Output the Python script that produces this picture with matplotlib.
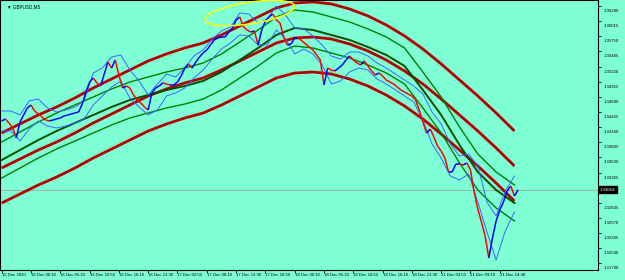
import numpy as np
import matplotlib
matplotlib.use("Agg")
import matplotlib.pyplot as plt
from matplotlib.collections import LineCollection
import matplotlib.transforms as mtransforms

# ---------------- data ----------------
symbol = "GBPUSD,M5"
time_labels = ["15 Dec 2020", "16 Dec 00:10", "16 Dec 05:30", "16 Dec 10:50", "16 Dec 16:10",
               "16 Dec 21:30", "17 Dec 02:50", "17 Dec 08:10", "17 Dec 13:30", "17 Dec 18:50",
               "18 Dec 00:10", "18 Dec 05:30", "18 Dec 10:50", "18 Dec 16:10", "18 Dec 21:30",
               "21 Dec 03:50", "21 Dec 09:10", "21 Dec 14:40"]
bars_per_label = 64
price_step_bars = 8
ind_step_bars = 40
band_step_bars = 20

close = [1.34268, 1.34303, 1.34233, 1.34145, 1.33970, 1.34250, 1.34373, 1.34495, 1.34548, 1.34443,
         1.34390, 1.34338, 1.34285, 1.34268, 1.34285, 1.34303, 1.34320, 1.34355, 1.34373, 1.34390,
         1.34408, 1.34425, 1.34565, 1.34775, 1.34950, 1.35020, 1.34933, 1.34880, 1.35090, 1.35300,
         1.35195, 1.35335, 1.35073, 1.34845, 1.34880, 1.34845, 1.34723, 1.34635, 1.34583, 1.34513,
         1.34460, 1.34758, 1.34845, 1.34880, 1.34933, 1.34915, 1.34898, 1.34898, 1.34950, 1.35055,
         1.35195, 1.35265, 1.35195, 1.35300, 1.35388, 1.35458, 1.35510, 1.35598, 1.35685, 1.35720,
         1.35738, 1.35738, 1.35825, 1.35895, 1.36035, 1.36088, 1.35913, 1.35860, 1.35825, 1.35843,
         1.35598, 1.35860, 1.36018, 1.36088, 1.36140, 1.36035, 1.35983, 1.35738, 1.35598, 1.35615,
         1.35720, 1.35720, 1.35668, 1.35615, 1.35563, 1.35510, 1.35423, 1.35335, 1.34898, 1.35195,
         1.35160, 1.35143, 1.35195, 1.35248, 1.35335, 1.35405, 1.35335, 1.35283, 1.35248, 1.35318,
         1.35230, 1.35143, 1.35073, 1.35108, 1.35055, 1.34985, 1.34950, 1.34915, 1.34863, 1.34810,
         1.34775, 1.34740, 1.34705, 1.34635, 1.34460, 1.34250, 1.34058, 1.34128, 1.33988, 1.33830,
         1.33743, 1.33620, 1.33375, 1.33375, 1.33515, 1.33515, 1.33498, 1.33533, 1.33410, 1.33025,
         1.32728, 1.32500, 1.32255, 1.31870, 1.32220, 1.32518, 1.32710, 1.32850, 1.33043, 1.33130,
         1.32955, 1.33064]

red_upper = [1.34058, 1.34216, 1.34373, 1.34513, 1.34671, 1.34846, 1.35003, 1.35161, 1.35318, 1.35441,
             1.35546, 1.35633, 1.35773, 1.35931, 1.36088, 1.36246, 1.36333, 1.36351, 1.36316, 1.36228,
             1.36106, 1.35948, 1.35756, 1.35528, 1.35266, 1.34986, 1.34706, 1.34408, 1.34093]
red_mid = [1.33445, 1.33603, 1.33760, 1.33900, 1.34058, 1.34233, 1.34390, 1.34548, 1.34705, 1.34828,
           1.34933, 1.35020, 1.35160, 1.35318, 1.35475, 1.35633, 1.35720, 1.35738, 1.35703, 1.35615,
           1.35493, 1.35335, 1.35143, 1.34915, 1.34653, 1.34373, 1.34093, 1.33795, 1.33480]
red_lower = [1.32832, 1.32990, 1.33147, 1.33287, 1.33445, 1.33620, 1.33777, 1.33935, 1.34092, 1.34215,
             1.34320, 1.34407, 1.34547, 1.34705, 1.34862, 1.35020, 1.35107, 1.35125, 1.35090, 1.35002,
             1.34880, 1.34722, 1.34530, 1.34302, 1.34040, 1.33760, 1.33480, 1.33182, 1.32867]

green_upper = [1.33900, 1.34075, 1.34250, 1.34408, 1.34548, 1.34688, 1.34828, 1.34950, 1.35038, 1.35125,
               1.35195, 1.35283, 1.35440, 1.35650, 1.35860, 1.36088, 1.36210, 1.36175, 1.36088, 1.36000,
               1.35878, 1.35738, 1.35545, 1.35125, 1.34688, 1.34163, 1.33690, 1.33375, 1.33148]
green_mid = [1.33585, 1.33760, 1.33935, 1.34093, 1.34233, 1.34373, 1.34513, 1.34635, 1.34723, 1.34810,
             1.34880, 1.34968, 1.35125, 1.35335, 1.35545, 1.35773, 1.35895, 1.35860, 1.35773, 1.35685,
             1.35563, 1.35423, 1.35230, 1.34810, 1.34373, 1.33848, 1.33375, 1.33060, 1.32833]
green_lower = [1.33270, 1.33445, 1.33620, 1.33778, 1.33918, 1.34058, 1.34198, 1.34320, 1.34408, 1.34495,
               1.34565, 1.34653, 1.34810, 1.35020, 1.35230, 1.35458, 1.35580, 1.35545, 1.35458, 1.35370,
               1.35248, 1.35108, 1.34915, 1.34495, 1.34058, 1.33533, 1.33060, 1.32745, 1.32518]

blue_upper = [1.34443, 1.34443, 1.34373, 1.34618, 1.34653, 1.34495, 1.34425, 1.34460, 1.34513, 1.34618,
              1.35108, 1.35195, 1.35388, 1.35423, 1.35160, 1.34968, 1.34723, 1.34915, 1.35090, 1.35038,
              1.35195, 1.35405, 1.35510, 1.35703, 1.35843, 1.35913, 1.36158, 1.36140, 1.35983, 1.36053,
              1.36280, 1.36123, 1.35895, 1.35878, 1.35755, 1.35598, 1.35405, 1.35353, 1.35475, 1.35475,
              1.35405, 1.35283, 1.35195, 1.35090, 1.34985, 1.34880, 1.34740, 1.34425, 1.34215, 1.33865,
              1.33655, 1.33690, 1.33480, 1.32850, 1.32605, 1.33043, 1.33305]
blue_lower = [1.34093, 1.34093, 1.33918, 1.34128, 1.34268, 1.34180, 1.34145, 1.34180, 1.34233, 1.34303,
              1.34548, 1.34705, 1.34863, 1.34968, 1.34670, 1.34513, 1.34373, 1.34460, 1.34705, 1.34758,
              1.34845, 1.35020, 1.35160, 1.35353, 1.35528, 1.35633, 1.35773, 1.35755, 1.35598, 1.35598,
              1.35860, 1.35703, 1.35440, 1.35528, 1.35440, 1.35248, 1.34915, 1.34968, 1.35125, 1.35195,
              1.35160, 1.35003, 1.34915, 1.34810, 1.34705, 1.34600, 1.34285, 1.33865, 1.33620, 1.33305,
              1.33235, 1.33340, 1.32850, 1.32325, 1.31835, 1.32343, 1.32675]

price_ticks = [1.36280, 1.36015, 1.35750, 1.35485, 1.35220, 1.34955, 1.34690, 1.34425, 1.34160,
               1.33895, 1.33630, 1.33365, 1.33100, 1.32835, 1.32570, 1.32305, 1.32040, 1.31790]
current_price = 1.33064
y_range = (1.31660, 1.36385)
x_range = (-3.7, 1302.5)

# ellipse annotation (time index centre, price centre, half-width in bars, half-heights in price)
ell_center = (542, 1.36157)
ell_half_w = 98
ell_half_h = 0.0019
ell_tilt = 0.00114

# ---------------- drawing ----------------
FONT = ["Liberation Sans", "DejaVu Sans"]
plt.rcParams["font.family"] = FONT
BG = "#7FFFD4"
W, H, DPI = 625, 280, 100
fig = plt.figure(figsize=(W / DPI, H / DPI), dpi=DPI, facecolor=BG)
ax = fig.add_axes([0 / W, 10 / H, 598 / W, 270 / H])
ax.set_facecolor(BG)

xi_price = np.arange(len(close)) * price_step_bars
xi_ind = np.arange(len(red_mid)) * ind_step_bars
xi_band = np.arange(len(blue_upper)) * band_step_bars

pts = np.column_stack([xi_price, close])
segs = np.stack([pts[:-1], pts[1:]], axis=1)
cols = ["#0000FF" if c1 >= c0 else "#FF0000" for c0, c1 in zip(close[:-1], close[1:])]

ax.axhline(current_price, color="#9AB8B0", lw=0.8, zorder=1)

for arr in (red_upper, red_mid, red_lower):
    ax.plot(xi_ind, arr, color="#B40000", lw=2.0, zorder=2, solid_capstyle="butt")
ax.plot(xi_ind, green_upper, color="#008000", lw=1.0, zorder=3)
ax.plot(xi_ind, green_mid, color="#005000", lw=1.4, zorder=3)
ax.plot(xi_ind, green_lower, color="#008000", lw=1.0, zorder=3)
ax.plot(xi_band, blue_upper, color="#3C64FF", lw=0.7, zorder=4)
ax.plot(xi_band, blue_lower, color="#3C64FF", lw=0.7, zorder=4)
ax.add_collection(LineCollection(segs, colors=cols, linewidths=1.1, zorder=5))

t = np.linspace(0, 2 * np.pi, 200)
ex = ell_center[0] + ell_half_w * np.cos(t)
ey = ell_center[1] + ell_half_h * np.sin(t) + ell_tilt * np.cos(t)
ax.plot(ex, ey, color="#FFFF00", lw=1.1, zorder=6)

ax.set_xlim(*x_range)
ax.set_ylim(*y_range)

for s in ax.spines.values():
    s.set_color("black")
    s.set_linewidth(0.8)
ax.yaxis.tick_right()
ax.set_yticks(price_ticks)
ax.set_yticklabels([])
ax.set_xticks(np.arange(len(time_labels)) * bars_per_label)
ax.set_xticklabels([])
ax.tick_params(axis="both", length=2.5, width=0.6, color="black")

FS = 3.1
off = mtransforms.offset_copy(ax.get_yaxis_transform(), fig=fig, x=4, y=-3.6, units="points")
for p in price_ticks:
    if abs(p - 1.33100) < 1e-6:
        continue
    ax.text(1.0, p, f"{p:.5f}", transform=off, fontsize=FS, va="center", ha="left",
            color="black", clip_on=False)

offx = mtransforms.offset_copy(ax.get_xaxis_transform(), fig=fig, x=0, y=-2.5, units="points")
for i, lab in enumerate(time_labels):
    ax.text(i * bars_per_label, 0, lab, transform=offx, fontsize=FS, va="top", ha="left",
            color="black", clip_on=False)

ax.text(1.0, current_price, f"{current_price:.5f}", transform=mtransforms.offset_copy(
    ax.get_yaxis_transform(), fig=fig, x=1.5, y=0, units="points"),
    fontsize=FS, va="center", ha="left", color="white", clip_on=False,
    bbox=dict(boxstyle="square,pad=0.3", fc="black", ec="black"))

ax.text(0.012, 0.985, "\u25BC " + symbol, transform=ax.transAxes, fontsize=3.3, va="top",
        ha="left", color="black")

fig.savefig("out.png", dpi=DPI, facecolor=BG)
